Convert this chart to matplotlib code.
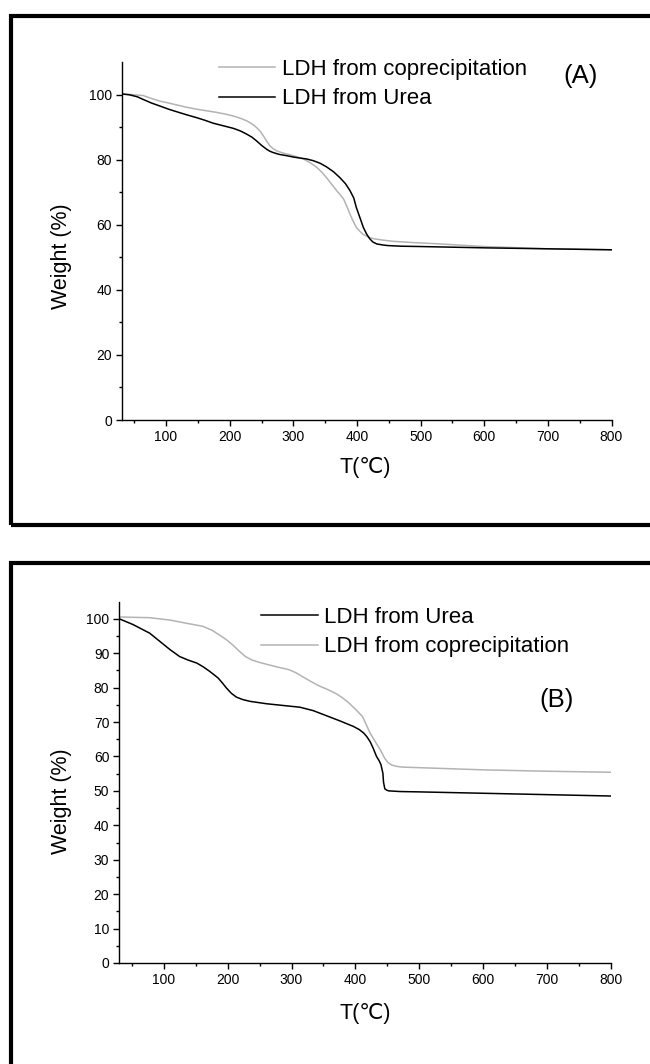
import matplotlib
matplotlib.use("Agg")
import matplotlib.pyplot as plt
from matplotlib.patches import Rectangle

plt.rcParams['font.family'] = ['Liberation Sans', 'DejaVu Sans']

# ---------------- data (A) ----------------
tA_urea = [30, 43, 55, 64, 77, 90, 104, 117, 132, 148, 161, 174, 190, 206, 217, 227,
           235, 242, 250, 258, 263, 268, 278, 290, 300, 310, 321, 331, 342, 352,
           363, 373, 382, 389, 395, 399, 405, 410, 415, 420, 425, 431, 440, 448,
           470, 500, 600, 700, 800]
wA_urea = [100.2, 99.9, 99.3, 98.5, 97.4, 96.5, 95.5, 94.7, 93.8, 92.9, 92.1, 91.2,
           90.4, 89.6, 88.8, 87.8, 86.9, 85.8, 84.4, 83.2, 82.6, 82.2, 81.6, 81.2,
           80.8, 80.5, 80.2, 79.7, 78.9, 77.8, 76.3, 74.5, 72.6, 70.5, 68.2, 65.3,
           62.0, 59.2, 57.2, 55.7, 54.7, 54.1, 53.8, 53.6, 53.4, 53.3, 52.9, 52.6,
           52.3]

tA_cop = [30, 45, 64, 77, 90, 104, 117, 132, 148, 164, 180, 193, 206, 217, 227, 235,
          242, 248, 253, 258, 263, 268, 274, 284, 295, 305, 316, 327, 337, 345,
          352, 360, 368, 374, 379, 384, 389, 394, 399, 405, 410, 418, 426, 440,
          457, 490, 530, 600, 700, 800]
wA_cop = [100.2, 100.0, 99.7, 98.8, 98.0, 97.4, 96.8, 96.1, 95.5, 95.0, 94.5, 94.0,
          93.4, 92.7, 91.9, 91.0, 89.9, 88.7, 87.3, 85.7, 84.3, 83.4, 82.7, 82.0,
          81.5, 80.9, 80.2, 79.0, 77.6, 76.1, 74.5, 72.5, 70.5, 69.1, 67.9, 65.7,
          63.3, 61.1, 59.2, 57.9, 57.0, 56.2, 55.7, 55.3, 54.9, 54.5, 54.1, 53.3,
          52.6, 52.3]

# ---------------- data (B) ----------------
tB_urea = [30, 52, 78, 94, 110, 125, 138, 152, 162, 172, 185, 192, 198, 206, 214,
           224, 235, 261, 292, 313, 334, 355, 376, 397, 406, 413, 418, 423, 428,
           433, 437, 440, 443, 444, 446, 449, 452, 470, 500, 600, 700, 800]
wB_urea = [100.0, 98.3, 95.8, 93.4, 91.0, 89.0, 88.0, 87.1, 86.0, 84.7, 82.8, 81.3,
           79.9, 78.3, 77.2, 76.5, 76.0, 75.3, 74.7, 74.3, 73.3, 71.8, 70.3, 68.7,
           67.8, 66.8, 65.7, 64.3, 62.3, 60.0, 58.8, 57.6, 55.1, 52.5, 50.6, 50.2,
           50.0, 49.8, 49.7, 49.3, 48.9, 48.5]

tB_cop = [30, 78, 110, 135, 161, 175, 187, 198, 208, 218, 228, 238, 250, 275, 296,
          307, 317, 330, 343, 357, 370, 380, 390, 400, 411, 423, 431, 439, 446,
          451, 457, 465, 474, 600, 700, 800]
wB_cop = [100.5, 100.3, 99.6, 98.7, 97.8, 96.7, 95.3, 93.9, 92.4, 90.6, 89.0, 88.0,
          87.3, 86.1, 85.2, 84.3, 83.2, 81.8, 80.5, 79.4, 78.2, 77.0, 75.5, 73.7,
          71.6, 66.8, 64.3, 61.9, 59.4, 58.2, 57.5, 57.1, 56.9, 56.1, 55.7, 55.4]

label_urea = "LDH from Urea"
label_cop = "LDH from coprecipitation"
xlabel = "T(\u2103)"
ylabel = "Weight (%)"
x_major = [100, 200, 300, 400, 500, 600, 700, 800]
x_minor = [50, 150, 250, 350, 450, 550, 650, 750]

GRAY = "#b3b3b3"

fig = plt.figure(figsize=(6.5, 10.64), dpi=100)

# panel frames
fig.add_artist(Rectangle((11/650, 1 - 525/1064), 1.2, (525 - 16)/1064,
                         transform=fig.transFigure, fill=False, lw=3.0, ec='black'))
fig.add_artist(Rectangle((11/650, -0.2), 1.2, 0.2 + 1 - 563/1064,
                         transform=fig.transFigure, fill=False, lw=3.0, ec='black'))

axA = fig.add_axes([121.5/650, 1 - 420/1064, 490/650, 358/1064])
axB = fig.add_axes([119/650, 1 - 963/1064, 492/650, 361.5/1064])


def style(ax, ylim, ymaj, ymin):
    ax.set_xlim(30, 800)
    ax.set_ylim(*ylim)
    ax.spines['top'].set_visible(False)
    ax.spines['right'].set_visible(False)
    for s in ('left', 'bottom'):
        ax.spines[s].set_linewidth(1.0)
    ax.set_xticks(x_major)
    ax.set_xticks(x_minor, minor=True)
    ax.set_yticks(ymaj)
    ax.set_yticks(ymin, minor=True)
    ax.tick_params(which='major', direction='out', length=4, width=1.0,
                   labelsize=10, pad=3)
    ax.tick_params(which='minor', direction='out', length=2.5, width=1.0)
    ax.set_xlabel(xlabel, fontsize=15.5)
    ax.set_ylabel(ylabel, fontsize=15.5)
    ax.yaxis.label.set_va('center')
    ax.xaxis.label.set_va('center')


legend_kw = dict(frameon=False, fontsize=16, handlelength=2.55, handletextpad=0.3,
                 borderpad=0, borderaxespad=0, labelspacing=0.38)

# ---- (A)
axA.plot(tA_cop, wA_cop, color=GRAY, lw=1.1, label=label_cop)
axA.plot(tA_urea, wA_urea, color='black', lw=1.1, label=label_urea)
style(axA, (0, 110), list(range(0, 101, 20)), list(range(10, 101, 20)))
axA.yaxis.set_label_coords((62 - 121.5)/490, (420 - 256.5)/358)
axA.xaxis.set_label_coords((365 - 121.5)/490, -(468 - 420)/358)
axA.legend(loc='upper left', bbox_to_anchor=((218.5 - 121.5)/490, (420 - 59)/358),
           **legend_kw)
axA.text((580.5 - 121.5)/490, (420 - 76)/358, "(A)", transform=axA.transAxes,
         fontsize=18.5, ha='center', va='center')

# ---- (B)
axB.plot(tB_urea, wB_urea, color='black', lw=1.1, label=label_urea)
axB.plot(tB_cop, wB_cop, color=GRAY, lw=1.1, label=label_cop)
style(axB, (0, 105), list(range(0, 101, 10)), list(range(5, 101, 10)))
axB.yaxis.set_label_coords((62 - 119)/492, (963 - 801)/361.5)
axB.xaxis.set_label_coords((365 - 119)/492, -(1013.6 - 963)/361.5)
axB.legend(loc='upper left', bbox_to_anchor=((261 - 119)/492, (963 - 607)/361.5),
           **legend_kw)
axB.text((556.5 - 119)/492, (963 - 700)/361.5, "(B)", transform=axB.transAxes,
         fontsize=18.5, ha='center', va='center')

fig.savefig("out.png", dpi=100)
